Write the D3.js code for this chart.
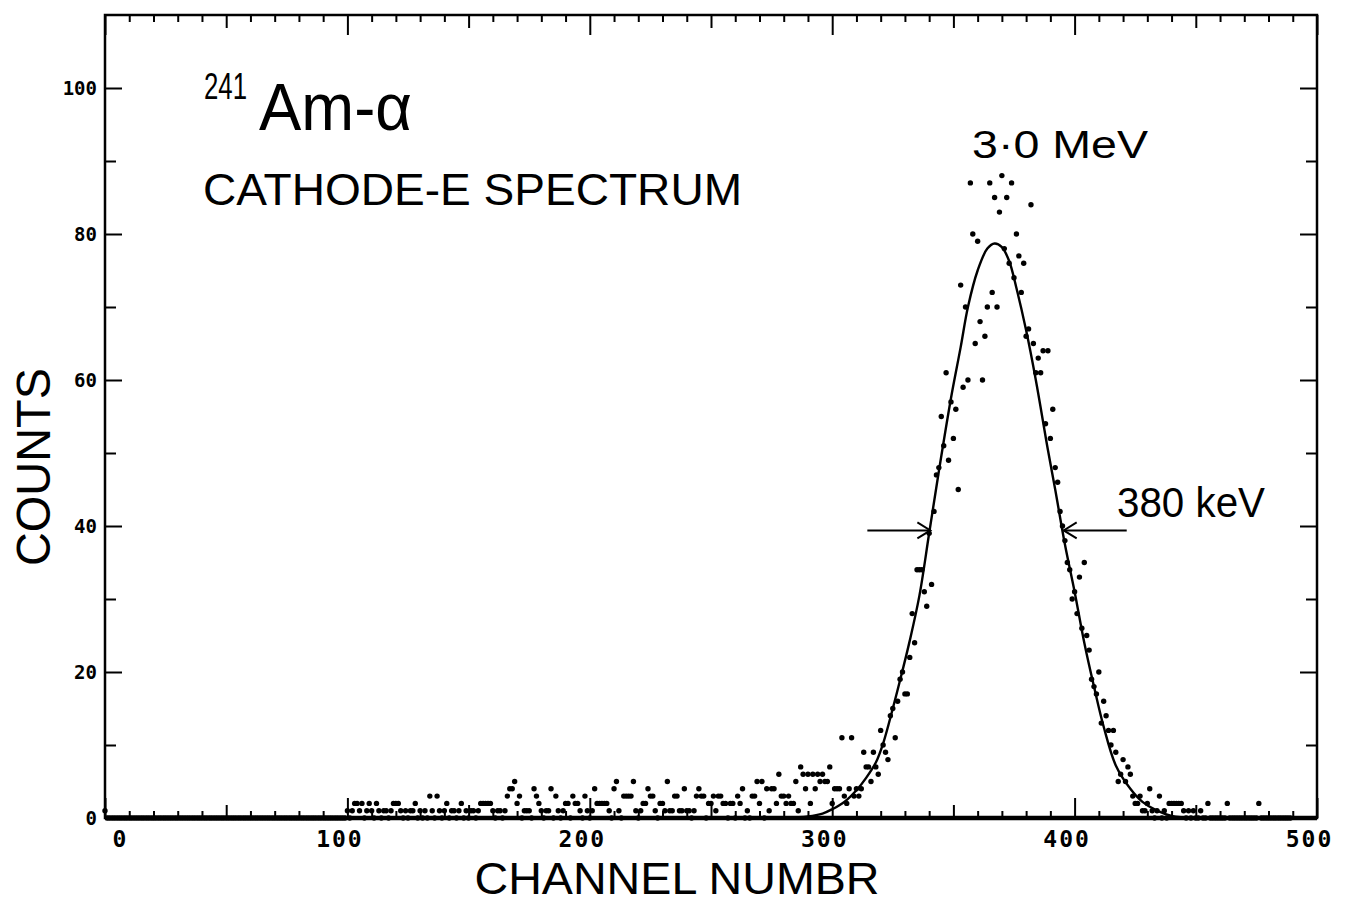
<!DOCTYPE html>
<html>
<head>
<meta charset="utf-8">
<script src="https://d3js.org/d3.v7.min.js"></script>
<style>
  body { margin: 0; background: #fff; }
  svg { display: block; }
  .lbl { font-family: "Liberation Sans", Arial, sans-serif; fill: #000; }
  .tick text { font-family: "DejaVu Sans Mono", monospace; font-weight: bold; fill: #000; }
</style>
</head>
<body>
<div id="chart"></div>
<script>
// counts per channel in blocks of 100 channels
var counts000 = [1,0,0,0,0,0,0,0,0,0, 0,0,0,0,0,0,0,0,0,0, 0,0,0,0,0,0,0,0,0,0, 0,0,0,0,0,0,0,0,0,0,
                 0,0,0,0,0,0,0,0,0,0, 0,0,0,0,0,0,0,0,0,0, 0,0,0,0,0,0,0,0,0,0, 0,0,0,0,0,0,0,0,0,0,
                 0,0,0,0,0,0,0,0,0,0, 0,0,0,0,0,0,0,0,0,0];
var counts100 = [1,0,1,2,2,1,2,0,1,2, 1,0,2,1,0,1,1,0,1,2, 2,2,1,0,1,0,1,1,2,0, 1,0,1,0,3,1,0,3,1,0,
                 1,2,0,1,1,0,1,2,0,1, 0,1,1,0,1,2,2,2,2,2, 1,0,1,1,0,1,3,4,4,5, 2,3,0,1,1,1,0,4,3,2,
                 1,0,1,1,4,0,3,1,0,1, 2,2,0,3,2,2,1,0,3,1];
var counts200 = [0,1,4,2,2,2,2,2,1,0, 4,5,1,0,3,3,3,3,5,1, 0,1,2,2,4,3,3,1,0,2, 2,1,5,1,1,3,3,1,1,4,
                 1,1,0,1,3,4,3,3,0,2, 2,3,1,3,3,2,2,0,2,2, 0,3,2,4,0,1,0,3,3,5, 2,5,0,4,1,4,4,2,6,3,
                 3,2,3,2,2,5,1,7,6,4, 6,2,6,4,6,5,6,5,5,7];
var counts300 = [2,4,4,4,11,3,2,4,11,3, 4,3,4,9,7,7,5,9,7,6, 12,10,9,8,14,15,11,16,19,20, 17,17,22,28,24,34,34,34,31,29,
                 39,32,42,47,48,55,51,61,49,57, 52,56,45,73,59,70,60,87,80,65, 79,68,60,66,70,87,72,85,70,83,
                 88,78,85,76,87,74,80,77,72,76, 66,67,84,65,61,63,61,64,54,64, 52,56,48,46,42,40,38,35,34,30];
var counts400 = [31,28,33,26,35,25,23,19,18,17, 20,13,16,14,12,10,12,9,5,6, 8,5,7,6,3,2,2,3,1,1,
                 2,4,1,0,1,3,0,1,0,2, 2,2,2,2,2,1,0,1,0,1, 0,0,1,0,0,2,0,0,0,0, 0,0,0,2,0,0,0,0,0,0,
                 0,0,0,0,0,0,2,0,0,0, 0,0,0,0,0,0,0,0,0,0];
var blockStarts = [0, 100, 200, 300, 400];

// fitted curve, points
var fitChannels = [280, 290, 296, 300, 305, 310, 314, 318, 321, 325, 329, 332, 336, 340, 344, 349, 353, 356, 360, 364,
                   367, 370, 373, 376, 380, 384, 389, 392, 396, 400, 404, 408, 412, 417, 423, 428, 434, 440, 450];
var fitCounts   = [0, 0.2, 0.6, 1.2, 2.2, 3.8, 5.5, 7.6, 10.2, 15, 20.2, 24.3, 30.5, 39, 47.5, 57.5, 64.5, 70, 75, 78,
                   78.7, 78.2, 76.3, 72.6, 66.8, 60, 50.4, 45, 37.5, 31, 24, 18, 12.5, 7.2, 4, 2.2, 1, 0.3, 0];

// FWHM marker
var fwhmLevel = 39.4;
var fwhmEdges = [340.5, 395.5];

var xTickLabels = [0, 100, 200, 300, 400, 500];
var yTickLabels = [0, 20, 40, 60, 80, 100];

function buildPoints(){
  var blocks = [counts000, counts100, counts200, counts300, counts400];
  var pts = [];
  for(var b = 0; b < blocks.length; b++){
    for(var i = 0; i < blocks[b].length; i++){
      pts.push({channel: blockStarts[b] + i, count: blocks[b][i]});
    }
  }
  return pts;
}

function createChart(){
  var W = 1347, H = 905;
  var margin = {top: 15, right: 30, bottom: 87, left: 105};

  var svg = d3.select("#chart").append("svg")
      .attr("width", W)
      .attr("height", H);
  svg.append("rect").attr("width", W).attr("height", H).attr("fill", "#fff");

  var x = d3.scaleLinear().domain([0, 500]).range([margin.left, W - margin.right]);
  var y = d3.scaleLinear().domain([0, 110]).range([H - margin.bottom, margin.top]);

  var x0 = x.range()[0], x1 = x.range()[1];
  var y0 = y.range()[0], y1 = y.range()[1];

  // tick marks, pointing inward on all four sides
  var xMinor = d3.range(0, 501, 10);
  function xLen(v){ return v % 100 == 0 ? 20 : (v % 50 == 0 ? 13 : 7); }
  var bottomAxis = svg.append("g")
      .attr("transform", "translate(0," + y0 + ")")
      .call(d3.axisBottom(x).tickValues(xMinor).tickFormat("").tickSizeOuter(0));
  bottomAxis.selectAll(".tick line").attr("y2", function(d){ return -xLen(d); })
      .attr("stroke", "#000").attr("stroke-width", 2);
  bottomAxis.select(".domain").remove();

  var topAxis = svg.append("g")
      .attr("transform", "translate(0," + y1 + ")")
      .call(d3.axisTop(x).tickValues(xMinor).tickFormat("").tickSizeOuter(0));
  topAxis.selectAll(".tick line").attr("y2", function(d){ return xLen(d); })
      .attr("stroke", "#000").attr("stroke-width", 2);
  topAxis.select(".domain").remove();

  var yMinor = d3.range(0, 101, 10);
  function yLen(v){ return v % 20 == 0 ? 17 : 11; }
  var leftAxis = svg.append("g")
      .attr("transform", "translate(" + x0 + ",0)")
      .call(d3.axisLeft(y).tickValues(yMinor).tickFormat("").tickSizeOuter(0));
  leftAxis.selectAll(".tick line").attr("x2", function(d){ return yLen(d); })
      .attr("stroke", "#000").attr("stroke-width", 2);
  leftAxis.select(".domain").remove();

  var rightAxis = svg.append("g")
      .attr("transform", "translate(" + x1 + ",0)")
      .call(d3.axisRight(y).tickValues(yMinor).tickFormat("").tickSizeOuter(0));
  rightAxis.selectAll(".tick line").attr("x2", function(d){ return -yLen(d); })
      .attr("stroke", "#000").attr("stroke-width", 2);
  rightAxis.select(".domain").remove();

  // frame
  svg.append("rect")
      .attr("x", x0).attr("y", y1)
      .attr("width", x1 - x0).attr("height", y0 - y1)
      .attr("fill", "none").attr("stroke", "#000").attr("stroke-width", 2.5);
  svg.append("line")
      .attr("x1", x0).attr("x2", x1).attr("y1", y0).attr("y2", y0)
      .attr("stroke", "#000").attr("stroke-width", 4.5);

  // tick labels
  var xLab = svg.append("g")
      .attr("transform", "translate(0," + y0 + ")")
      .call(d3.axisBottom(x).tickValues(xTickLabels).tickSize(0).tickPadding(13));
  xLab.select(".domain").remove();
  xLab.selectAll(".tick text")
      .attr("font-size", 23).attr("letter-spacing", 2)
      .attr("dx", function(d){ return d == 0 ? 15 : -8; });

  var yLab = svg.append("g")
      .attr("transform", "translate(" + x0 + ",0)")
      .call(d3.axisLeft(y).tickValues(yTickLabels).tickSize(0).tickPadding(8));
  yLab.select(".domain").remove();
  yLab.selectAll(".tick text").attr("font-size", 19);

  // data points
  var points = buildPoints();
  svg.append("g").selectAll("circle")
      .data(points)
      .enter().append("circle")
      .attr("cx", function(d){ return x(d.channel); })
      .attr("cy", function(d){ return y(d.count); })
      .attr("r", 2.7)
      .attr("fill", "#000");

  // fitted curve
  var fit = fitChannels.map(function(c, i){ return {channel: c, count: fitCounts[i]}; });
  var fitLine = d3.line()
      .x(function(d){ return x(d.channel); })
      .y(function(d){ return y(d.count); })
      .curve(d3.curveCatmullRom);
  svg.append("path")
      .datum(fit)
      .attr("d", fitLine)
      .attr("fill", "none")
      .attr("stroke", "#000")
      .attr("stroke-width", 2.4);

  // FWHM arrows
  var ay = y(fwhmLevel);
  var arrowLen = 26;
  [[fwhmEdges[0], -1], [fwhmEdges[1], 1]].forEach(function(a){
    var tip = x(a[0]);
    var tail = x(a[0] + a[1] * arrowLen);
    svg.append("line")
        .attr("x1", tail).attr("x2", tip).attr("y1", ay).attr("y2", ay)
        .attr("stroke", "#000").attr("stroke-width", 2);
    svg.append("path")
        .attr("d", "M" + (tip + a[1] * 13) + "," + (ay - 8) + "L" + tip + "," + ay +
                   "L" + (tip + a[1] * 13) + "," + (ay + 8))
        .attr("fill", "none").attr("stroke", "#000").attr("stroke-width", 2);
  });

  // annotations
  svg.append("text").attr("class", "lbl")
      .attr("x", 204).attr("y", 99)
      .attr("font-size", 36).attr("textLength", 43).attr("lengthAdjust", "spacingAndGlyphs")
      .text("241");
  svg.append("text").attr("class", "lbl")
      .attr("x", 259).attr("y", 130)
      .attr("font-size", 66).attr("textLength", 153).attr("lengthAdjust", "spacingAndGlyphs")
      .text("Am-α");
  svg.append("text").attr("class", "lbl")
      .attr("x", 203).attr("y", 205)
      .attr("font-size", 45).attr("textLength", 539).attr("lengthAdjust", "spacingAndGlyphs")
      .text("CATHODE-E SPECTRUM");
  svg.append("text").attr("class", "lbl")
      .attr("x", 972).attr("y", 158)
      .attr("font-size", 39).attr("textLength", 176).attr("lengthAdjust", "spacingAndGlyphs")
      .text("3·0 MeV");
  svg.append("text").attr("class", "lbl")
      .attr("x", 1117).attr("y", 517)
      .attr("font-size", 42).attr("textLength", 148).attr("lengthAdjust", "spacingAndGlyphs")
      .text("380 keV");

  // axis titles
  svg.append("text").attr("class", "lbl")
      .attr("transform", "translate(50,467) rotate(-90)")
      .attr("text-anchor", "middle")
      .attr("font-size", 48).attr("textLength", 198).attr("lengthAdjust", "spacingAndGlyphs")
      .text("COUNTS");
  svg.append("text").attr("class", "lbl")
      .attr("x", 677).attr("y", 894)
      .attr("text-anchor", "middle")
      .attr("font-size", 45).attr("textLength", 405).attr("lengthAdjust", "spacingAndGlyphs")
      .text("CHANNEL NUMBR");
}

createChart();
</script>
</body>
</html>
